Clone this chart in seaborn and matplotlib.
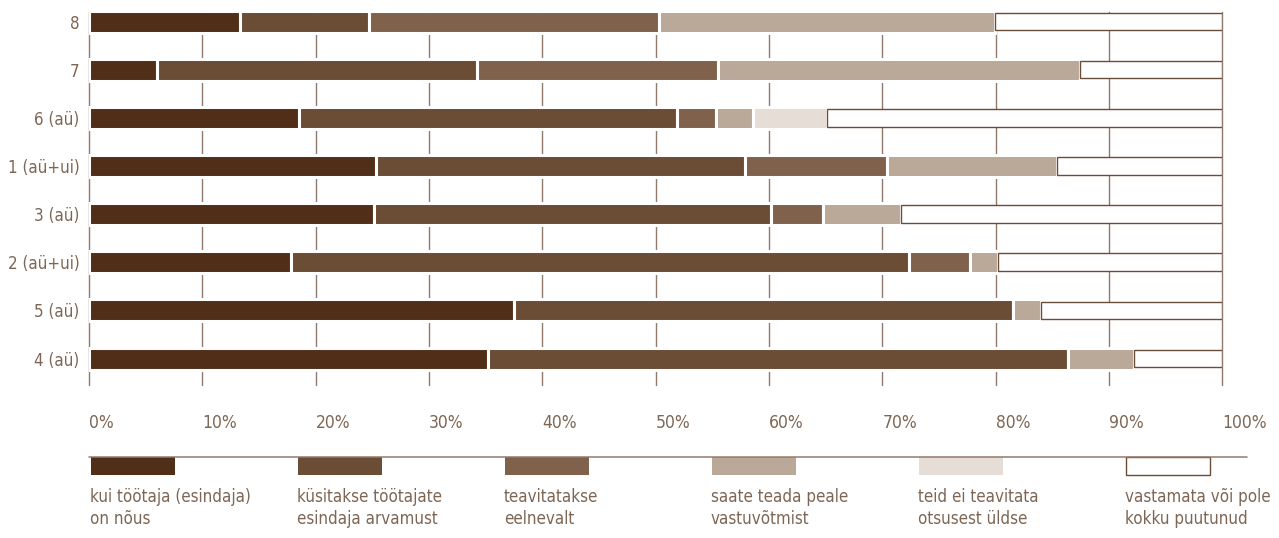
import numpy as np
import matplotlib
matplotlib.use('Agg')
import matplotlib.pyplot as plt
from matplotlib import font_manager as fm
from matplotlib.patches import Rectangle
import seaborn as sns

# answer groups, top to bottom
groups = ['8', '7', '6 (aü)', '1 (aü+ui)', '3 (aü)', '2 (aü+ui)', '5 (aü)', '4 (aü)']

# shares in %
agree = [13.3, 6.0, 18.5, 25.3, 25.1, 17.8, 37.5, 35.2]
asked = [11.4, 28.2, 33.4, 32.6, 35.1, 54.5, 44.0, 51.2]
informed_before = [25.6, 21.3, 3.4, 12.5, 4.6, 5.4, 0.0, 0.0]
after_adoption = [29.6, 31.9, 3.3, 15.0, 6.8, 2.5, 2.5, 5.8]
not_informed = [0.0, 0.0, 6.5, 0.0, 0.0, 0.0, 0.0, 0.0]
no_answer = [20.1, 12.6, 34.9, 14.6, 28.4, 19.8, 16.0, 7.8]

legend_labels = ['kui töötaja (esindaja)\non nõus',
                 'küsitakse töötajate\nesindaja arvamust',
                 'teavitatakse\neelnevalt',
                 'saate teada peale\nvastuvõtmist',
                 'teid ei teavitata\notsusest üldse',
                 'vastamata või pole\nkokku puutunud']

x_ticks = list(range(0, 101, 10))
x_tick_labels = [f'{t}%' for t in x_ticks]

colors = ['#512e18', '#6b4c35', '#80624c', '#baa899', '#e5ddd6', '#ffffff']
edge_brown = '#6b4c35'
text_col = '#7d6655'
grid_col = '#8f7a6c'

sns.set_style('white')

# the original uses a condensed face; take the first narrow one that is installed
narrow = None
for f in fm.fontManager.ttflist:
    is_narrow = ('Narrow' in f.name or 'Condensed' in f.name
                 or f.stretch in ('condensed', 'semi-condensed', 75, 87))
    if is_narrow and f.style == 'normal' and f.weight in (400, 'normal', 'regular'):
        narrow = f
        break

if narrow is not None:
    plt.rcParams['font.family'] = [narrow.name, 'DejaVu Sans']
    plt.rcParams['font.stretch'] = narrow.stretch
    tick_size, y_size, leg_size = 12.5, 12.2, 12.2
else:
    plt.rcParams['font.family'] = ['DejaVu Sans']
    tick_size, y_size, leg_size = 11, 10.5, 10.5

fig = plt.figure(figsize=(12.79, 5.38), dpi=100)
ax = fig.add_axes([0.0696, 0.2844, 0.8862, 0.6935])

segments = [agree, asked, informed_before, after_adoption, not_informed, no_answer]
left = np.zeros(len(groups))
for i, (vals, col) in enumerate(zip(segments, colors)):
    last = i == len(segments) - 1
    sns.barplot(x=vals, y=groups, orient='h', color=col, saturation=1,
                width=0.366 if last else 0.457, left=left,
                edgecolor=edge_brown if last else 'white',
                linewidth=1.0 if last else 2.2,
                errorbar=None, ax=ax, zorder=3)
    left = left + np.array(vals)

ax.set_xlim(0, 100)
ax.set_ylim(7.55, -0.2)
ax.set_xticks(x_ticks)
ax.set_xticklabels(x_tick_labels, ha='left')
ax.set_xlabel('')
ax.set_ylabel('')
ax.tick_params(axis='x', length=0, pad=21, colors=text_col, labelsize=tick_size)
ax.tick_params(axis='y', length=0, pad=7, colors=text_col, labelsize=y_size)
ax.grid(axis='x', color=grid_col, linewidth=1.0)
ax.grid(axis='y', visible=False)
ax.set_axisbelow(True)
for gl in ax.xaxis.get_gridlines():
    gl.set_clip_on(False)
sns.despine(ax=ax, left=True, bottom=True)

# legend strip below the axis, in pixel coordinates
lax = fig.add_axes([0, 0, 1, 1])
lax.set_xlim(0, 1279)
lax.set_ylim(538, 0)
lax.axis('off')
lax.plot([89, 1247], [457, 457], color=grid_col, linewidth=1.1)
for i, (lab, col) in enumerate(zip(legend_labels, colors)):
    x0 = 91 + i * 207
    last = i == len(colors) - 1
    lax.add_patch(Rectangle((x0, 457), 84, 18, facecolor=col,
                            edgecolor=edge_brown if last else 'none', linewidth=1.0))
    lax.text(x0 - 1, 488, lab, ha='left', va='top', color=text_col,
             fontsize=leg_size, linespacing=1.25)

fig.savefig('out.png', dpi=100)
